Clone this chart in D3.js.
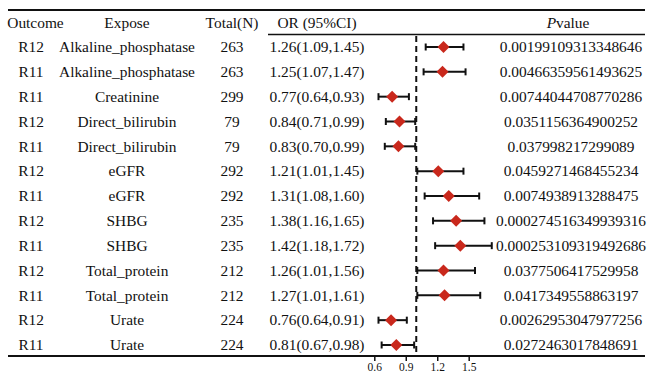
<!DOCTYPE html>
<html>
<head>
<meta charset="utf-8">
<script src="https://cdn.jsdelivr.net/npm/d3@7"></script>
<style>
  body { margin: 0; background: #fff; }
  svg text { font-family: "Liberation Serif", "Times New Roman", serif; fill: #111; }
</style>
</head>
<body>
<div id="chart"></div>
<script>
// table data, one entry per row
var outcomes = ["R12", "R11", "R11", "R12", "R11", "R12", "R11", "R12", "R11", "R12", "R11", "R12", "R11"];
var exposes = ["Alkaline_phosphatase", "Alkaline_phosphatase", "Creatinine", "Direct_bilirubin", "Direct_bilirubin",
  "eGFR", "eGFR", "SHBG", "SHBG", "Total_protein", "Total_protein", "Urate", "Urate"];
var totals = [263, 263, 299, 79, 79, 292, 292, 235, 235, 212, 212, 224, 224];
var ors = [1.26, 1.25, 0.77, 0.84, 0.83, 1.21, 1.31, 1.38, 1.42, 1.26, 1.27, 0.76, 0.81];
var lowers = [1.09, 1.07, 0.64, 0.71, 0.70, 1.01, 1.08, 1.16, 1.18, 1.01, 1.01, 0.64, 0.67];
var uppers = [1.45, 1.47, 0.93, 0.99, 0.99, 1.45, 1.60, 1.65, 1.72, 1.56, 1.61, 0.91, 0.98];
var pvalues = ["0.00199109313348646", "0.00466359561493625", "0.00744044708770286", "0.0351156364900252",
  "0.037998217299089", "0.0459271468455234", "0.0074938913288475", "0.000274516349939316",
  "0.000253109319492686", "0.0377506417529958", "0.0417349558863197", "0.00262953047977256",
  "0.0272463017848691"];
var tickValues = [0.6, 0.9, 1.2, 1.5];

var width = 648, height = 378;
var svg = d3.select("#chart").append("svg")
  .attr("width", width)
  .attr("height", height);

// forest plot scale
var x = d3.scaleLinear().domain([0.6, 1.5]).range([374.3, 468.7]);
var rows = d3.range(outcomes.length);
var y = d3.scalePoint().domain(rows).range([47, 345]);

var fontSize = 15.4;

// table lines
svg.append("line").attr("x1", 8).attr("x2", 645).attr("y1", 10).attr("y2", 10)
  .attr("stroke", "#111").attr("stroke-width", 2);
svg.append("line").attr("x1", 268).attr("x2", 645).attr("y1", 34.5).attr("y2", 34.5)
  .attr("stroke", "#111").attr("stroke-width", 1.5);
svg.append("line").attr("x1", 8).attr("x2", 645).attr("y1", 356).attr("y2", 356)
  .attr("stroke", "#111").attr("stroke-width", 2);

// header
var headers = [
  {text: "Outcome", x: 35.5},
  {text: "Expose", x: 127},
  {text: "Total(N)", x: 232},
  {text: "OR (95%CI)", x: 317}
];
svg.selectAll(".header")
  .data(headers)
  .enter().append("text")
  .attr("class", "header")
  .attr("x", d => d.x)
  .attr("y", 28)
  .attr("text-anchor", "middle")
  .style("font-size", fontSize + "px")
  .text(d => d.text);

var ph = svg.append("text")
  .attr("x", 568).attr("y", 28)
  .attr("text-anchor", "middle")
  .style("font-size", fontSize + "px");
ph.append("tspan").style("font-style", "italic").text("P");
ph.append("tspan").text("value");

// table body
function column(values, cx) {
  svg.append("g").selectAll("text")
    .data(values)
    .enter().append("text")
    .attr("x", cx)
    .attr("y", (d, i) => y(i) + 5.3)
    .attr("text-anchor", "middle")
    .style("font-size", fontSize + "px")
    .text(d => d);
}
column(outcomes, 31);
column(exposes, 127);
column(totals, 232);
column(rows.map(i => ors[i].toFixed(2) + "(" + lowers[i].toFixed(2) + "," + uppers[i].toFixed(2) + ")"), 317);
column(pvalues, 571);

// reference line at OR = 1
svg.append("line")
  .attr("x1", x(1)).attr("x2", x(1))
  .attr("y1", 36).attr("y2", 356)
  .attr("stroke", "#111")
  .attr("stroke-width", 2)
  .attr("stroke-dasharray", "6,4");

// confidence intervals
var ci = svg.append("g").selectAll("g")
  .data(rows)
  .enter().append("g");
ci.append("line")
  .attr("x1", i => x(lowers[i])).attr("x2", i => x(uppers[i]))
  .attr("y1", i => y(i)).attr("y2", i => y(i))
  .attr("stroke", "#111").attr("stroke-width", 2);
ci.append("line")
  .attr("x1", i => x(lowers[i])).attr("x2", i => x(lowers[i]))
  .attr("y1", i => y(i) - 3.5).attr("y2", i => y(i) + 3.5)
  .attr("stroke", "#111").attr("stroke-width", 2);
ci.append("line")
  .attr("x1", i => x(uppers[i])).attr("x2", i => x(uppers[i]))
  .attr("y1", i => y(i) - 3.5).attr("y2", i => y(i) + 3.5)
  .attr("stroke", "#111").attr("stroke-width", 2);
ci.append("path")
  .attr("d", i => {
    var cx = x(ors[i]), cy = y(i), r = 6;
    return "M" + (cx - r) + "," + cy + "L" + cx + "," + (cy - r) + "L" + (cx + r) + "," + cy + "L" + cx + "," + (cy + r) + "Z";
  })
  .attr("fill", "#c9281c");

// x axis
var axis = svg.append("g")
  .attr("transform", "translate(0,356)")
  .call(d3.axisBottom(x).tickValues(tickValues).tickSize(5).tickPadding(2).tickFormat(d3.format(".1f")));
axis.select(".domain").remove();
axis.selectAll("line").attr("stroke", "#111").attr("stroke-width", 1.5);
axis.selectAll("text")
  .style("font-family", "Liberation Serif, serif")
  .style("font-size", "11.5px")
  .attr("fill", "#222");
</script>
</body>
</html>
